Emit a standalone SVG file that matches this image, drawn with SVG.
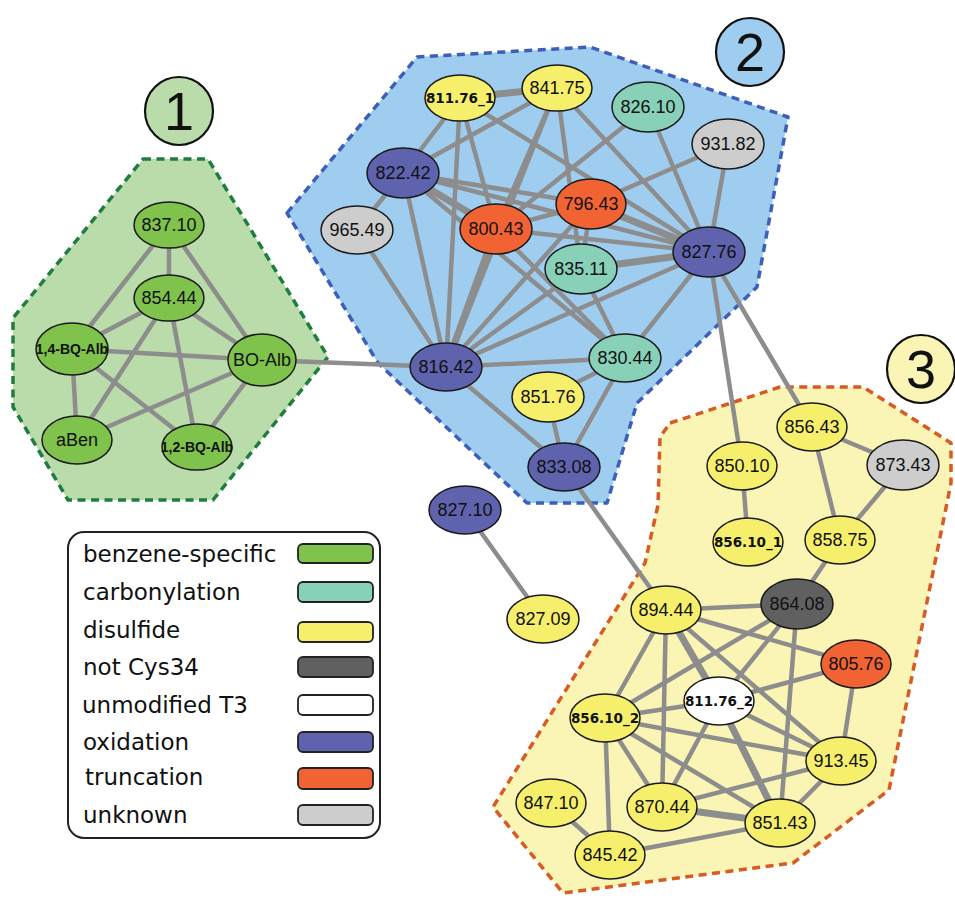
<svg xmlns="http://www.w3.org/2000/svg" width="955" height="900" viewBox="0 0 955 900">
<style>
.hull{stroke-width:3.5;stroke-dasharray:8 5.5;stroke-linejoin:round}
.h1{fill:#b9dcaa;stroke:#1f7d3f}
.h2{fill:#9fcdef;stroke:#3d5fb9}
.h3{fill:#faf5b4;stroke:#d75b22}
.badge{stroke:#111;stroke-width:2.2}
.bt{font-family:"Liberation Sans",Arial,sans-serif;font-size:54px;text-anchor:middle;fill:#111}
#edges line{stroke:#8d8d8d;stroke-width:4.5;stroke-linecap:round}
#edges line.t{stroke-width:7}
.n ellipse{stroke:#1a1a1a;stroke-width:1.5}
.n text{font-family:"Liberation Sans",Arial,sans-serif;font-size:18px;text-anchor:middle;fill:#111}
.n text.b{font-family:"DejaVu Sans",Verdana,sans-serif;font-weight:bold;font-size:13.5px}
.n text.s{font-weight:bold;font-size:14px}
.gr{fill:#7fc24c}.cb{fill:#88d0b8}.ds{fill:#f6ef6b}.nc{fill:#606060}.um{fill:#ffffff}.ox{fill:#5f62ad}.tr{fill:#f26333}.uk{fill:#cdcdcd}
.lg text{font-family:"DejaVu Sans",Verdana,sans-serif;font-size:23px;fill:#111}
.lg rect.sw{stroke:#222;stroke-width:1.8}
</style>

<g id="cluster1"><polygon class="hull h1" points="143,159 208,159 328,357 213,500 68,500 13,407 13,318"/></g>
<g id="cluster2"><polygon class="hull h2" points="287,213 417,57 590,47 788,117 757,287 637,403 607,503 527,503 378,363"/></g>
<g id="cluster3"><polygon class="hull h3" points="670,423 780,387 863,387 951,443 951,483 889,790 793,863 563,893 493,807 645,563 658,505 660,437"/></g>

<g id="badge1"><circle class="badge" cx="179" cy="111" r="34" fill="#b9dcaa"/><text class="bt" x="179" y="130">1</text></g>
<g id="badge2"><circle class="badge" cx="750" cy="52" r="34" fill="#9fcdef"/><text class="bt" x="750" y="71">2</text></g>
<g id="badge3"><circle class="badge" cx="921" cy="369" r="34" fill="#faf5b4"/><text class="bt" x="921" y="388">3</text></g>

<g id="edges">
<line x1="169" y1="225" x2="169" y2="298"/>
<line x1="169" y1="225" x2="72" y2="349"/>
<line x1="169" y1="225" x2="262" y2="360"/>
<line x1="169" y1="298" x2="72" y2="349"/>
<line x1="169" y1="298" x2="262" y2="360"/>
<line x1="169" y1="298" x2="77" y2="440"/>
<line x1="169" y1="298" x2="197" y2="447"/>
<line x1="72" y1="349" x2="262" y2="360"/>
<line x1="72" y1="349" x2="77" y2="440"/>
<line x1="72" y1="349" x2="197" y2="447"/>
<line x1="262" y1="360" x2="77" y2="440"/>
<line x1="262" y1="360" x2="197" y2="447"/>
<line x1="262" y1="360" x2="446" y2="367"/>
<line class="t" x1="460" y1="98" x2="557" y2="88"/>
<line x1="460" y1="98" x2="403" y2="173"/>
<line x1="460" y1="98" x2="446" y2="367"/>
<line x1="460" y1="98" x2="496" y2="229"/>
<line x1="460" y1="98" x2="709" y2="252"/>
<line x1="557" y1="88" x2="403" y2="173"/>
<line x1="557" y1="88" x2="496" y2="229"/>
<line x1="557" y1="88" x2="446" y2="367"/>
<line x1="557" y1="88" x2="581" y2="269"/>
<line x1="557" y1="88" x2="709" y2="252"/>
<line x1="648" y1="107" x2="496" y2="229"/>
<line x1="648" y1="107" x2="709" y2="252"/>
<line x1="728" y1="144" x2="709" y2="252"/>
<line x1="728" y1="144" x2="591" y2="204"/>
<line x1="403" y1="173" x2="357" y2="230"/>
<line x1="403" y1="173" x2="446" y2="367"/>
<line class="t" x1="403" y1="173" x2="496" y2="229"/>
<line x1="403" y1="173" x2="591" y2="204"/>
<line x1="403" y1="173" x2="709" y2="252"/>
<line x1="403" y1="173" x2="625" y2="358"/>
<line x1="357" y1="230" x2="446" y2="367"/>
<line x1="591" y1="204" x2="496" y2="229"/>
<line x1="591" y1="204" x2="581" y2="269"/>
<line class="t" x1="591" y1="204" x2="709" y2="252"/>
<line x1="591" y1="204" x2="446" y2="367"/>
<line x1="496" y1="229" x2="709" y2="252"/>
<line class="t" x1="496" y1="229" x2="446" y2="367"/>
<line x1="496" y1="229" x2="625" y2="358"/>
<line class="t" x1="581" y1="269" x2="709" y2="252"/>
<line x1="581" y1="269" x2="625" y2="358"/>
<line x1="581" y1="269" x2="446" y2="367"/>
<line x1="709" y1="252" x2="446" y2="367"/>
<line x1="709" y1="252" x2="625" y2="358"/>
<line x1="709" y1="252" x2="742" y2="466"/>
<line x1="709" y1="252" x2="812" y2="427"/>
<line x1="446" y1="367" x2="625" y2="358"/>
<line x1="446" y1="367" x2="564" y2="467"/>
<line x1="625" y1="358" x2="548" y2="397"/>
<line x1="625" y1="358" x2="564" y2="467"/>
<line x1="548" y1="397" x2="564" y2="467"/>
<line x1="564" y1="467" x2="666" y2="610"/>
<line x1="465" y1="510" x2="543" y2="619"/>
<line x1="742" y1="466" x2="748" y2="542"/>
<line x1="812" y1="427" x2="903" y2="465"/>
<line x1="812" y1="427" x2="840" y2="540"/>
<line x1="903" y1="465" x2="840" y2="540"/>
<line x1="840" y1="540" x2="797" y2="604"/>
<line x1="797" y1="604" x2="666" y2="610"/>
<line x1="797" y1="604" x2="605" y2="718"/>
<line x1="797" y1="604" x2="719" y2="701"/>
<line x1="797" y1="604" x2="780" y2="823"/>
<line x1="666" y1="610" x2="856" y2="664"/>
<line x1="666" y1="610" x2="605" y2="718"/>
<line x1="666" y1="610" x2="662" y2="807"/>
<line class="t" x1="666" y1="610" x2="719" y2="701"/>
<line x1="666" y1="610" x2="841" y2="761"/>
<line x1="856" y1="664" x2="719" y2="701"/>
<line x1="856" y1="664" x2="841" y2="761"/>
<line x1="719" y1="701" x2="605" y2="718"/>
<line x1="719" y1="701" x2="841" y2="761"/>
<line x1="719" y1="701" x2="662" y2="807"/>
<line class="t" x1="719" y1="701" x2="780" y2="823"/>
<line x1="605" y1="718" x2="841" y2="761"/>
<line x1="605" y1="718" x2="662" y2="807"/>
<line x1="605" y1="718" x2="780" y2="823"/>
<line x1="605" y1="718" x2="610" y2="855"/>
<line x1="841" y1="761" x2="662" y2="807"/>
<line x1="841" y1="761" x2="780" y2="823"/>
<line class="t" x1="662" y1="807" x2="780" y2="823"/>
<line x1="780" y1="823" x2="610" y2="855"/>
<line x1="610" y1="855" x2="551" y2="803"/>
</g>

<g id="n837_10" class="n"><ellipse class="gr" cx="169" cy="225" rx="35" ry="23"/><text x="169" y="231">837.10</text></g>
<g id="n854_44" class="n"><ellipse class="gr" cx="169" cy="298" rx="35" ry="23"/><text x="169" y="304">854.44</text></g>
<g id="n14BQ" class="n"><ellipse class="gr" cx="72" cy="349" rx="36" ry="26"/><text class="s" x="72" y="354">1,4-BQ-Alb</text></g>
<g id="nBOAlb" class="n"><ellipse class="gr" cx="262" cy="360" rx="34" ry="26"/><text x="262" y="366">BO-Alb</text></g>
<g id="naBen" class="n"><ellipse class="gr" cx="77" cy="440" rx="35" ry="24"/><text x="77" y="446">aBen</text></g>
<g id="n12BQ" class="n"><ellipse class="gr" cx="197" cy="447" rx="35" ry="23"/><text class="s" x="197" y="452">1,2-BQ-Alb</text></g>

<g id="n811_76_1" class="n"><ellipse class="ds" cx="460" cy="98" rx="35" ry="23"/><text class="b" x="460" y="103">811.76_1</text></g>
<g id="n841_75" class="n"><ellipse class="ds" cx="557" cy="88" rx="35" ry="23"/><text x="557" y="94">841.75</text></g>
<g id="n826_10" class="n"><ellipse class="cb" cx="648" cy="107" rx="36" ry="25"/><text x="648" y="113">826.10</text></g>
<g id="n931_82" class="n"><ellipse class="uk" cx="728" cy="144" rx="36" ry="25"/><text x="728" y="150">931.82</text></g>
<g id="n822_42" class="n"><ellipse class="ox" cx="403" cy="173" rx="36" ry="25"/><text x="403" y="179">822.42</text></g>
<g id="n965_49" class="n"><ellipse class="uk" cx="357" cy="230" rx="36" ry="24"/><text x="357" y="236">965.49</text></g>
<g id="n796_43" class="n"><ellipse class="tr" cx="591" cy="204" rx="35" ry="25"/><text x="591" y="210">796.43</text></g>
<g id="n800_43" class="n"><ellipse class="tr" cx="496" cy="229" rx="36" ry="25"/><text x="496" y="235">800.43</text></g>
<g id="n835_11" class="n"><ellipse class="cb" cx="581" cy="269" rx="36" ry="25"/><text x="581" y="275">835.11</text></g>
<g id="n827_76" class="n"><ellipse class="ox" cx="709" cy="252" rx="36" ry="25"/><text x="709" y="258">827.76</text></g>
<g id="n816_42" class="n"><ellipse class="ox" cx="446" cy="367" rx="36" ry="24"/><text x="446" y="373">816.42</text></g>
<g id="n830_44" class="n"><ellipse class="cb" cx="625" cy="358" rx="36" ry="24"/><text x="625" y="364">830.44</text></g>
<g id="n851_76" class="n"><ellipse class="ds" cx="548" cy="397" rx="36" ry="25"/><text x="548" y="403">851.76</text></g>
<g id="n833_08" class="n"><ellipse class="ox" cx="564" cy="467" rx="36" ry="24"/><text x="564" y="473">833.08</text></g>
<g id="n827_10" class="n"><ellipse class="ox" cx="465" cy="510" rx="36" ry="24"/><text x="465" y="516">827.10</text></g>
<g id="n827_09" class="n"><ellipse class="ds" cx="543" cy="619" rx="36" ry="24"/><text x="543" y="625">827.09</text></g>

<g id="n850_10" class="n"><ellipse class="ds" cx="742" cy="466" rx="35" ry="24"/><text x="742" y="472">850.10</text></g>
<g id="n856_43" class="n"><ellipse class="ds" cx="812" cy="427" rx="35" ry="24"/><text x="812" y="433">856.43</text></g>
<g id="n873_43" class="n"><ellipse class="uk" cx="903" cy="465" rx="36" ry="25"/><text x="903" y="471">873.43</text></g>
<g id="n856_10_1" class="n"><ellipse class="ds" cx="748" cy="542" rx="35" ry="24"/><text class="b" x="748" y="547">856.10_1</text></g>
<g id="n858_75" class="n"><ellipse class="ds" cx="840" cy="540" rx="35" ry="24"/><text x="840" y="546">858.75</text></g>
<g id="n864_08" class="n"><ellipse class="nc" cx="797" cy="604" rx="36" ry="25"/><text x="797" y="610">864.08</text></g>
<g id="n894_44" class="n"><ellipse class="ds" cx="666" cy="610" rx="35" ry="24"/><text x="666" y="616">894.44</text></g>
<g id="n805_76" class="n"><ellipse class="tr" cx="856" cy="664" rx="35" ry="24"/><text x="856" y="670">805.76</text></g>
<g id="n811_76_2" class="n"><ellipse class="um" cx="719" cy="701" rx="35" ry="24"/><text class="b" x="719" y="706">811.76_2</text></g>
<g id="n856_10_2" class="n"><ellipse class="ds" cx="605" cy="718" rx="35" ry="24"/><text class="b" x="605" y="723">856.10_2</text></g>
<g id="n913_45" class="n"><ellipse class="ds" cx="841" cy="761" rx="35" ry="24"/><text x="841" y="767">913.45</text></g>
<g id="n847_10" class="n"><ellipse class="ds" cx="551" cy="803" rx="35" ry="24"/><text x="551" y="809">847.10</text></g>
<g id="n870_44" class="n"><ellipse class="ds" cx="662" cy="807" rx="35" ry="24"/><text x="662" y="813">870.44</text></g>
<g id="n851_43" class="n"><ellipse class="ds" cx="780" cy="823" rx="35" ry="24"/><text x="780" y="829">851.43</text></g>
<g id="n845_42" class="n"><ellipse class="ds" cx="610" cy="855" rx="35" ry="24"/><text x="610" y="861">845.42</text></g>

<g id="legend" class="lg">
<rect x="68" y="532" width="312" height="306" rx="16" fill="#fff" stroke="#222" stroke-width="2"/>
<text x="83" y="562">benzene-specific</text><rect class="sw gr" x="298" y="544" width="75" height="19" rx="5"/>
<text x="83" y="600">carbonylation</text><rect class="sw cb" x="298" y="582" width="75" height="20" rx="5"/>
<text x="83" y="638">disulfide</text><rect class="sw ds" x="298" y="622" width="75" height="20" rx="5"/>
<text x="83" y="675">not Cys34</text><rect class="sw nc" x="298" y="657" width="75" height="20" rx="5"/>
<text x="82" y="713">unmodified T3</text><rect class="sw um" x="298" y="695" width="75" height="20" rx="5"/>
<text x="83" y="750">oxidation</text><rect class="sw ox" x="298" y="732" width="75" height="20" rx="5"/>
<text x="85" y="785">truncation</text><rect class="sw tr" x="298" y="768" width="75" height="21" rx="5"/>
<text x="83" y="823">unknown</text><rect class="sw uk" x="298" y="805" width="75" height="20" rx="5"/>
</g>
</svg>
